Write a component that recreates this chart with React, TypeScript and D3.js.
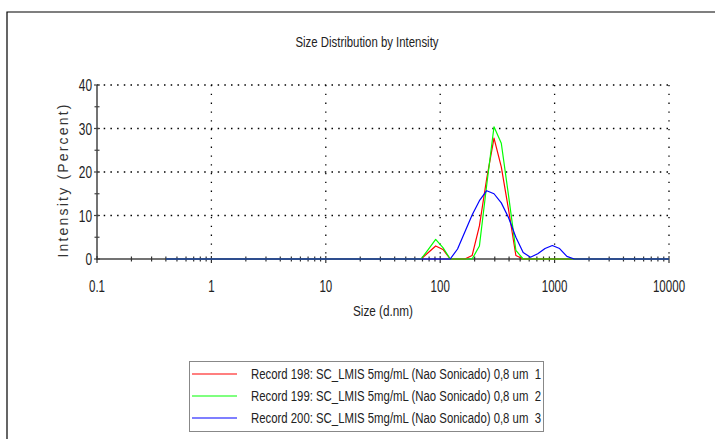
import React from "react";
import * as d3 from "d3";

// Malvern size bins (d.nm)
const sizes = [
  0.4, 0.4632, 0.5365, 0.6213, 0.7195, 0.8332, 0.9649, 1.117, 1.294, 1.499,
  1.736, 2.01, 2.328, 2.696, 3.122, 3.615, 4.187, 4.849, 5.615, 6.503,
  7.531, 8.721, 10.1, 11.7, 13.54, 15.69, 18.17, 21.04, 24.36, 28.21,
  32.67, 37.84, 43.82, 50.75, 58.77, 68.06, 78.82, 91.28, 105.7, 122.4,
  141.8, 164.2, 190.1, 220.2, 255.0, 295.3, 342.0, 396.1, 458.7, 531.2,
  615.1, 712.4, 825.0, 955.4, 1106, 1281, 1484, 1718, 1990, 2305,
  2669, 3091, 3580, 4145, 4801, 5560, 6439, 7456, 8635, 10000,
];

const record198 = [
  0, 0, 0, 0, 0, 0, 0, 0, 0, 0,
  0, 0, 0, 0, 0, 0, 0, 0, 0, 0,
  0, 0, 0, 0, 0, 0, 0, 0, 0, 0,
  0, 0, 0, 0, 0, 0, 1.5, 3.0, 2.2, 0,
  0, 0, 0.8, 7.6, 18.5, 27.8, 21.2, 11.3, 0.8, 0,
  0, 0, 0, 0, 0, 0, 0, 0, 0, 0,
  0, 0, 0, 0, 0, 0, 0, 0, 0, 0,
];

const record199 = [
  0, 0, 0, 0, 0, 0, 0, 0, 0, 0,
  0, 0, 0, 0, 0, 0, 0, 0, 0, 0,
  0, 0, 0, 0, 0, 0, 0, 0, 0, 0,
  0, 0, 0, 0, 0, 0, 2.2, 4.5, 2.6, 0,
  0, 0, 0, 3.0, 17.0, 30.4, 26.6, 14.5, 2.0, 0,
  0, 0, 0, 0, 0, 0, 0, 0, 0, 0,
  0, 0, 0, 0, 0, 0, 0, 0, 0, 0,
];

const record200 = [
  0, 0, 0, 0, 0, 0, 0, 0, 0, 0,
  0, 0, 0, 0, 0, 0, 0, 0, 0, 0,
  0, 0, 0, 0, 0, 0, 0, 0, 0, 0,
  0, 0, 0, 0, 0, 0, 0, 0, 0, 0,
  2.3, 6.2, 10.1, 13.4, 15.7, 15.0, 12.9, 9.5, 5.0, 1.5,
  0.4, 1.2, 2.4, 3.1, 2.4, 0.6, 0, 0, 0, 0,
  0, 0, 0, 0, 0, 0, 0, 0, 0, 0,
];

const series = [
  { name: "Record 198: SC_LMIS 5mg/mL (Nao Sonicado) 0,8 um  1", values: record198, color: "#ff0000" },
  { name: "Record 199: SC_LMIS 5mg/mL (Nao Sonicado) 0,8 um  2", values: record199, color: "#00ff00" },
  { name: "Record 200: SC_LMIS 5mg/mL (Nao Sonicado) 0,8 um  3", values: record200, color: "#0000ff" },
];

const xTicks = [0.1, 1, 10, 100, 1000, 10000];
const xTickLabels = ["0.1", "1", "10", "100", "1000", "10000"];
const yTicks = [0, 10, 20, 30, 40];

const font = "'Liberation Sans', Arial, sans-serif";

export default function App() {
  const left = 97, right = 669, top = 85, bottom = 259;
  const x = d3.scaleLog().domain([0.1, 10000]).range([left, right]);
  const y = d3.scaleLinear().domain([0, 40]).range([bottom, top]);

  const line = d3
    .line<number>()
    .x((_, i) => x(sizes[i]))
    .y((d) => y(d));

  // minor ticks 2..9 in each decade
  const minor: number[] = [];
  for (let p = -1; p < 4; p++) {
    for (let m = 2; m <= 9; m++) minor.push(m * Math.pow(10, p));
  }
  const yMinor = d3.range(5, 40, 10);

  return (
    <svg width={715} height={439} style={{ position: "absolute", left: 0, top: 0, background: "#fff" }} fontFamily={font}>
      <rect x={0} y={0} width={715} height={439} fill="#fff" />
      <path d="M7,439 V12 H715" fill="none" stroke="#000" strokeWidth={1.2} />

      <text x={367} y={47} fontSize={14} textAnchor="middle" textLength={143} lengthAdjust="spacingAndGlyphs" fill="#222">
        Size Distribution by Intensity
      </text>

      {/* grid */}
      {yTicks.slice(1).map((t) => (
        <line key={"gy" + t} x1={left} x2={right} y1={y(t)} y2={y(t)} stroke="#000" strokeWidth={1.6} strokeDasharray="1.5,5.2" />
      ))}
      {xTicks.slice(1).map((t) => (
        <line key={"gx" + t} x1={x(t)} x2={x(t)} y1={top} y2={bottom} stroke="#000" strokeWidth={1.3} strokeDasharray="1.3,7.5" />
      ))}

      {/* axes */}
      <line x1={left} x2={left} y1={top} y2={bottom + 1} stroke="#444" strokeWidth={1.5} />
      <line x1={left} x2={right} y1={bottom} y2={bottom} stroke="#444" strokeWidth={1.5} />
      {yTicks.map((t) => (
        <line key={"yt" + t} x1={left - 3} x2={left + 3} y1={y(t)} y2={y(t)} stroke="#444" strokeWidth={1.2} />
      ))}
      {yMinor.map((t) => (
        <line key={"ym" + t} x1={left - 2.5} x2={left + 2.5} y1={y(t)} y2={y(t)} stroke="#444" strokeWidth={1.2} />
      ))}
      {minor.map((t) => (
        <line key={"xm" + t} x1={x(t)} x2={x(t)} y1={bottom - 2.5} y2={bottom + 2.5} stroke="#333" strokeWidth={1.2} />
      ))}
      {xTicks.map((t) => (
        <line key={"xt" + t} x1={x(t)} x2={x(t)} y1={bottom - 3} y2={bottom + 4} stroke="#333" strokeWidth={1.2} />
      ))}

      {/* tick labels */}
      {yTicks.map((t) => (
        <text key={"yl" + t} transform={`translate(92,${y(t) + 6}) scale(0.7,1)`} fontSize={17} textAnchor="end" fill="#222">
          {t}
        </text>
      ))}
      {xTicks.map((t, i) => (
        <text key={"xl" + t} transform={`translate(${x(t)},${292}) scale(0.68,1)`} fontSize={17} textAnchor="middle" fill="#222">
          {xTickLabels[i]}
        </text>
      ))}

      <text transform="translate(68,181) rotate(-90)" fontSize={14} textAnchor="middle" textLength={153} fill="#333">
        Intensity (Percent)
      </text>
      <text x={383} y={316} fontSize={14} textAnchor="middle" textLength={60} lengthAdjust="spacingAndGlyphs" fill="#222">
        Size (d.nm)
      </text>

      {/* curves */}
      {series.map((s) => (
        <path key={s.name} d={line(s.values) ?? ""} fill="none" stroke={s.color} strokeWidth={1.2} strokeLinejoin="round" />
      ))}

      {/* legend */}
      <rect x={189.5} y={361.5} width={354} height={70} fill="#fff" stroke="#888" strokeWidth={1} />
      {series.map((s, i) => {
        const cy = 374 + i * 22;
        return (
          <g key={"lg" + i}>
            <line x1={192} x2={237} y1={cy} y2={cy} stroke={s.color} strokeWidth={1.2} />
            <text x={251} y={cy + 5} fontSize={14} textLength={290} lengthAdjust="spacingAndGlyphs" fill="#222" style={{ whiteSpace: "pre" }}>
              {s.name}
            </text>
          </g>
        );
      })}
    </svg>
  );
}
